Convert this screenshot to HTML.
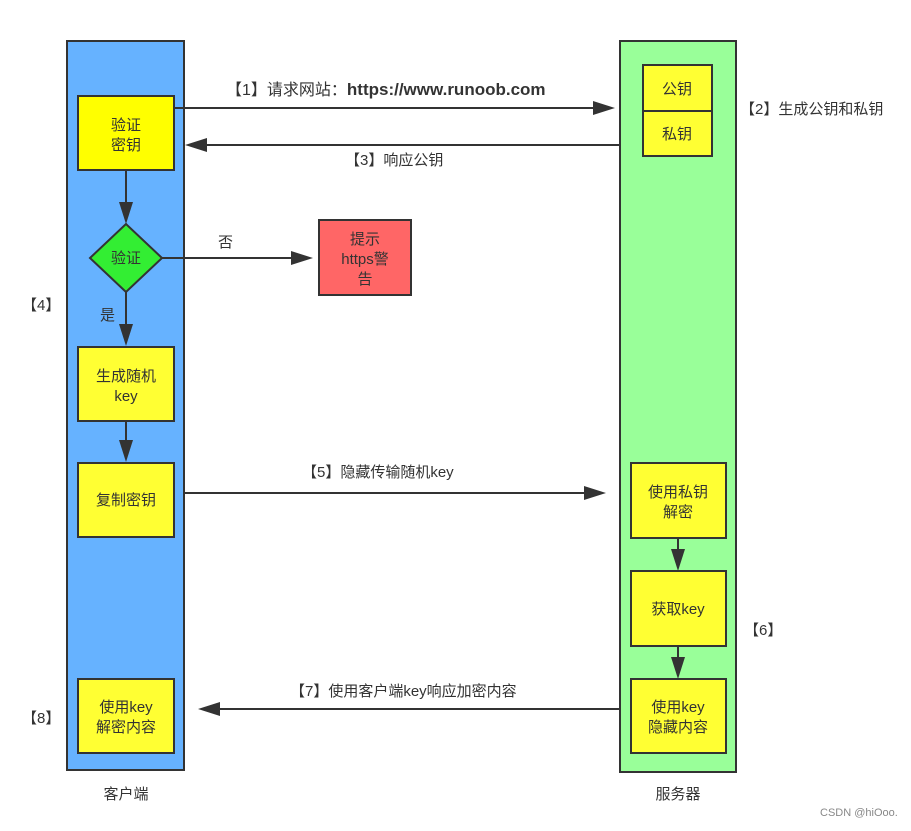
<!DOCTYPE html>
<html><head><meta charset="utf-8"><style>
html,body{margin:0;padding:0;background:#fff;}
svg text{font-family:"Liberation Sans","Noto Sans CJK SC",sans-serif;fill:#333;}
</style></head><body>
<svg width="911" height="826" viewBox="0 0 911 826" xmlns="http://www.w3.org/2000/svg">
<g stroke="#333" stroke-width="2">
<rect x="67" y="41" width="117" height="729" fill="#66b2ff"/>
<rect x="620" y="41" width="116" height="731" fill="#99ff99"/>
<rect x="78" y="96" width="96" height="74" fill="#ffff00"/>
<polygon points="126,224 162,258 126,292 90,258" fill="#33ee33"/>
<rect x="319" y="220" width="92" height="75" fill="#ff6666"/>
<rect x="78" y="347" width="96" height="74" fill="#ffff33"/>
<rect x="78" y="463" width="96" height="74" fill="#ffff33"/>
<rect x="78" y="679" width="96" height="74" fill="#ffff33"/>
<rect x="643" y="65" width="69" height="46" fill="#ffff33"/>
<rect x="643" y="111" width="69" height="45" fill="#ffff33"/>
<rect x="631" y="463" width="95" height="75" fill="#ffff33"/>
<rect x="631" y="571" width="95" height="75" fill="#ffff33"/>
<rect x="631" y="679" width="95" height="74" fill="#ffff33"/>
<line x1="174" y1="108" x2="600" y2="108"/>
<line x1="620" y1="145" x2="200" y2="145"/>
<line x1="162" y1="258" x2="298" y2="258"/>
<line x1="126" y1="170" x2="126" y2="206"/>
<line x1="126" y1="292" x2="126" y2="330"/>
<line x1="126" y1="421" x2="126" y2="446"/>
<line x1="184" y1="493" x2="592" y2="493"/>
<line x1="678" y1="538" x2="678" y2="556"/>
<line x1="678" y1="646" x2="678" y2="664"/>
<line x1="620" y1="709" x2="213" y2="709"/>
</g>
<g fill="#333">
<polygon points="615,108 593,101 593,115"/>
<polygon points="185,145 207,138 207,152"/>
<polygon points="313,258 291,251 291,265"/>
<polygon points="126,224 119,202 133,202"/>
<polygon points="126,346 119,324 133,324"/>
<polygon points="126,462 119,440 133,440"/>
<polygon points="606,493 584,486 584,500"/>
<polygon points="678,571 671,549 685,549"/>
<polygon points="678,679 671,657 685,657"/>
<polygon points="198,709 220,702 220,716"/>
</g>
<g font-size="15" text-anchor="middle">
<text x="126" y="130">验证</text><text x="126" y="150">密钥</text>
<text x="126" y="263">验证</text>
<text x="365" y="244">提示</text><text x="365" y="264">https警</text><text x="365" y="284">告</text>
<text x="126" y="381">生成随机</text><text x="126" y="401">key</text>
<text x="126" y="505">复制密钥</text>
<text x="126" y="712">使用key</text><text x="126" y="732">解密内容</text>
<text x="677" y="94">公钥</text>
<text x="677" y="139">私钥</text>
<text x="678" y="497">使用私钥</text><text x="678" y="517">解密</text>
<text x="678" y="614">获取key</text>
<text x="678" y="712">使用key</text><text x="678" y="732">隐藏内容</text>
<text x="126" y="799">客户端</text>
<text x="678" y="799">服务器</text>
</g>
<g font-size="15">
<text x="226" y="95" font-size="16">【1】请求网站：<tspan font-weight="bold" font-size="17">https://www.runoob.com</tspan></text>
<text x="345" y="165">【3】响应公钥</text>
<text x="740" y="114">【2】生成公钥和私钥</text>
<text x="218" y="247">否</text>
<text x="100" y="320">是</text>
<text x="22" y="310">【4】</text>
<text x="302" y="477">【5】隐藏传输随机key</text>
<text x="744" y="635">【6】</text>
<text x="290" y="696">【7】使用客户端key响应加密内容</text>
<text x="22" y="723">【8】</text>
</g>
<text x="820" y="816" font-size="11" style="fill:#888">CSDN @hiOoo.</text>
</svg>
</body></html>
